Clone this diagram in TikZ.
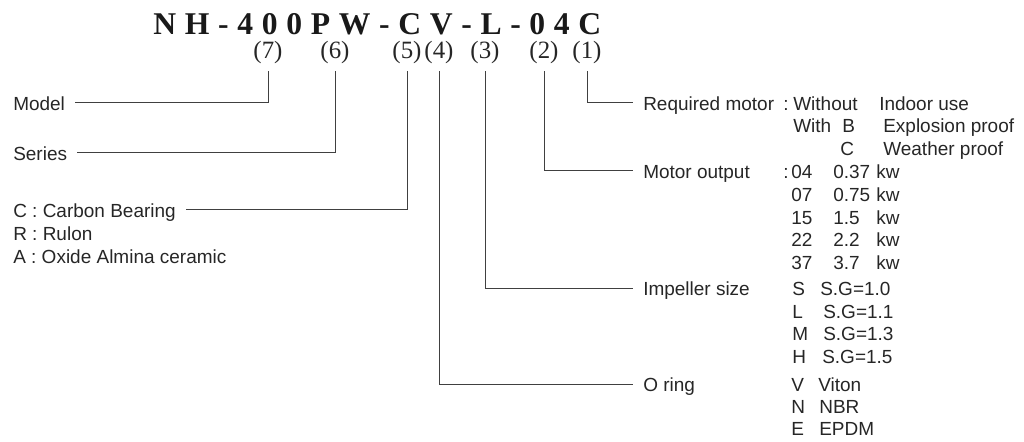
\documentclass[tikz,border=0pt]{standalone}
\usepackage{fontspec}
\setmainfont{Liberation Serif}
\setsansfont{Liberation Sans}
\usetikzlibrary{positioning}
\tikzset{
  partno/.style={anchor=base west, inner sep=0pt, font=\fontsize{22.5}{26}\selectfont\bfseries, text=black!90},
  digit/.style={anchor=base, inner xsep=0pt, inner ysep=5.5pt, font=\fontsize{17.7}{20}\selectfont, text=black!85},
  item/.style={anchor=base west, inner xsep=7.1pt, inner ysep=0pt, text height=10.8pt, text depth=0pt, font=\sffamily\fontsize{13.5}{16}\selectfont, text=black!85},
  choice/.style={anchor=base west, inner sep=0pt, font=\sffamily\fontsize{13.5}{16}\selectfont, text=black!85},
  lead/.style={draw=black!75, line width=0.65pt}
}
\begin{document}
\begin{tikzpicture}[x=0.025cm, y=-0.025cm]
\useasboundingbox (0,0) rectangle (1024,441);
% part number and position marks
\node[partno] (code) at (153,34) {\spaceskip=0.274em\relax N H - 4 0 0 P W - C V - L - 0 4 C};
\node[digit] (d7) at (268,58) {(7)};
\node[digit] (d6) at (335,58) {(6)};
\node[digit] (d5) at (407,58) {(5)};
\node[digit] (d4) at (439,58) {(4)};
\node[digit] (d3) at (485,58) {(3)};
\node[digit] (d2) at (544,58) {(2)};
\node[digit] (d1) at (587,58) {(1)};
% left side
\node[item] (model) at (3,110) {Model};
\node[item] (series) at (3,160) {Series};
\node[item] (carbon) at (3,217) {C : Carbon Bearing};
\node[item] (rulon) at (3,240.5) {R : Rulon};
\node[item] (oxide) at (3,263.5) {A : Oxide Almina ceramic};
% right side
\node[item] (reqmotor) at (633,110) {Required motor};
\node[item] (motorout) at (633,178.3) {Motor output};
\node[item] (impeller) at (633,295.6) {Impeller size};
\node[item] (oring) at (633,391.7) {O ring};
\node[choice] (colon1) at (783,110) {:};
\node[choice] (without) at (793,110) {Without};
\node[choice] (indoor) at (879,110) {Indoor use};
\node[choice] (with) at (793,132.5) {With};
\node[choice] (withb) at (842,132.5) {B};
\node[choice] (explo) at (883,132.5) {Explosion proof};
\node[choice] (withc) at (840,155) {C};
\node[choice] (weather) at (883,155) {Weather proof};
\node[choice] (colon2) at (783,178.3) {:};
\foreach \y/\a/\b in {178.3/04/0.37, 201/07/0.75, 224/15/1.5, 246.7/22/2.2, 269.3/37/3.7} {
  \node[choice] (out\a) at (791,\y) {\a};
  \node[choice] (kw\a) at (833,\y) {\b};
  \node[choice] (unit\a) at (876,\y) {kw};
}
\foreach \y/\c/\x/\g in {295.6/S/820/1.0, 318.3/L/823/1.1, 340.7/M/823/1.3, 363.3/H/822/1.5} {
  \node[choice] (size\c) at (792,\y) {\c};
  \node[choice] (sg\c) at (\x,\y) {S.G=\g};
}
\foreach \y/\c/\x/\m in {391.7/V/818/Viton, 413.3/N/819/NBR, 435.7/E/819/EPDM} {
  \node[choice] (ring\c) at (791,\y) {\c};
  \node[choice] (mat\c) at (\x,\y) {\m};
}
% leader lines
\draw[lead] (model) -| (d7);
\draw[lead] (series) -| (d6);
\draw[lead] (carbon) -| (d5);
\draw[lead] (d4) |- (oring);
\draw[lead] (d3) |- (impeller);
\draw[lead] (d2) |- (motorout);
\draw[lead] (d1) |- (reqmotor);
\end{tikzpicture}
\end{document}
